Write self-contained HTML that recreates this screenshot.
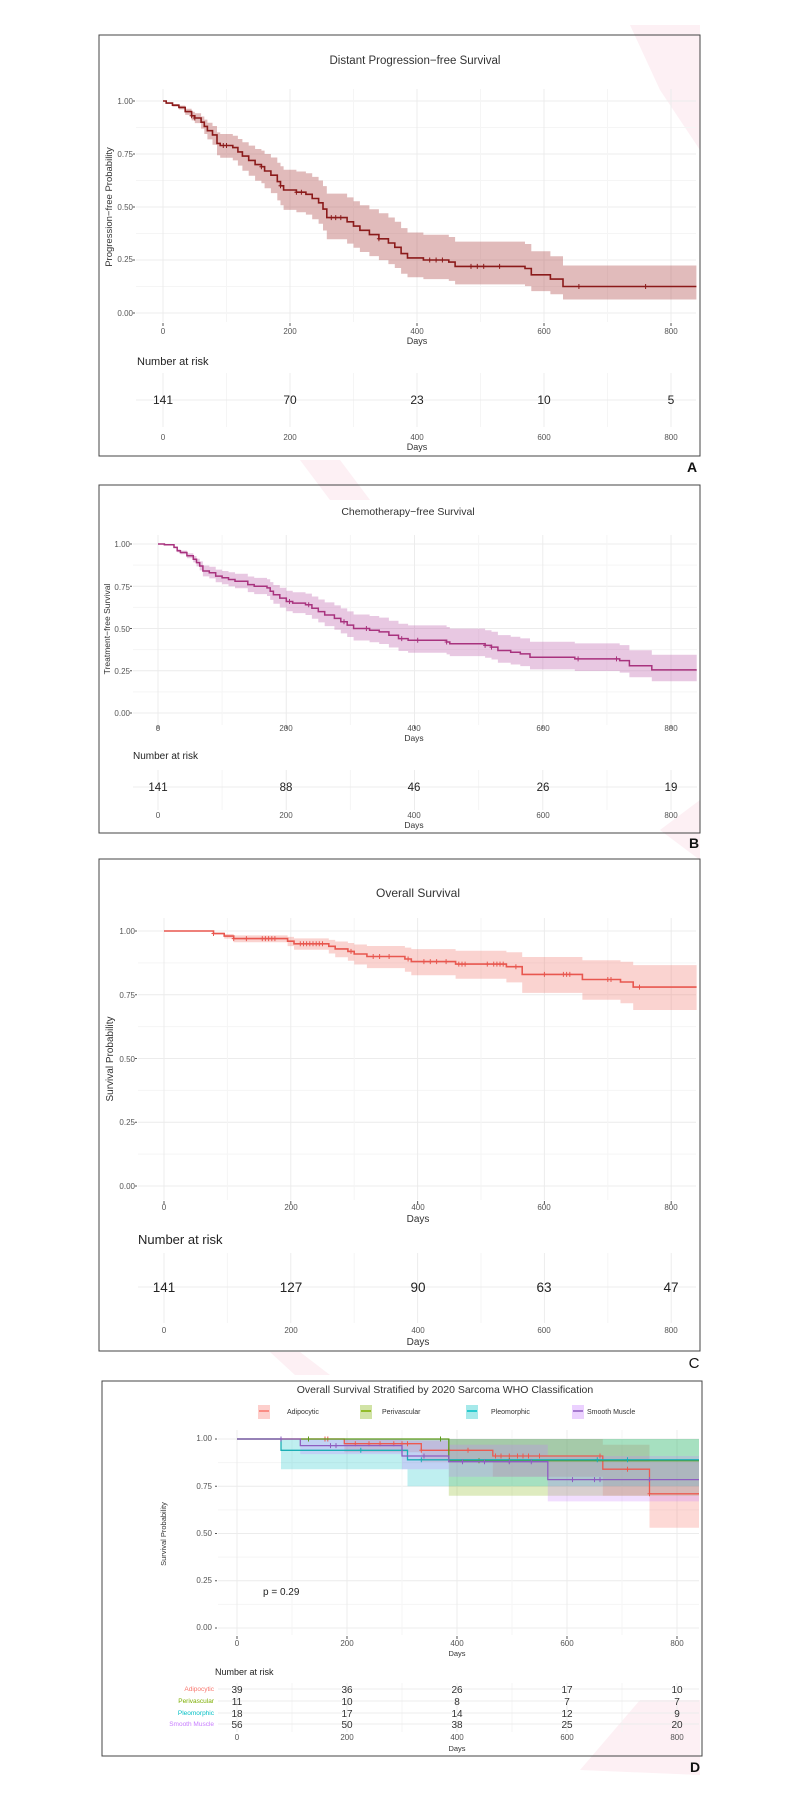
<!DOCTYPE html>
<html><head><meta charset="utf-8"><style>
html,body{margin:0;padding:0;background:#fff;}
svg{display:block;font-family:"Liberation Sans",sans-serif;}
.tk{font-size:8px;fill:#555;}
.ax{font-size:9px;fill:#333;}
.grid{stroke:#ececec;stroke-width:1;}
.mgrid{stroke:#f5f5f5;stroke-width:1;}
</style></head><body>
<svg id="s" width="800" height="1800" viewBox="0 0 800 1800" xmlns="http://www.w3.org/2000/svg">
<g fill="#fdf0f4">
<polygon points="630,25 700,25 700,150 660,90"/>
<polygon points="300,460 340,460 370,500 330,500"/>
<polygon points="660,830 700,800 700,860"/>
<polygon points="270,1352 300,1352 330,1375 295,1375"/>
<polygon points="580,1770 640,1700 700,1700 700,1775"/>
</g>
<g id="grids"></g>
<g id="bands"></g>
<g id="lines"></g>

<!-- Panel A -->
<rect x="99" y="35" width="601" height="421" fill="none" stroke="#444" stroke-width="1"/>
<text x="415" y="64" text-anchor="middle" font-size="11.5" fill="#333">Distant Progression−free Survival</text>
<g class="tk" text-anchor="end">
<text x="133" y="104">1.00</text><text x="133" y="157">0.75</text><text x="133" y="210">0.50</text><text x="133" y="262">0.25</text><text x="133" y="316">0.00</text>
</g>
<text transform="translate(112,207) rotate(-90)" text-anchor="middle" font-size="9.5" fill="#333">Progression−free Probability</text>
<g class="tk" text-anchor="middle">
<text x="163" y="334">0</text><text x="290" y="334">200</text><text x="417" y="334">400</text><text x="544" y="334">600</text><text x="671" y="334">800</text>
</g>
<text x="417" y="344" text-anchor="middle" class="ax">Days</text>
<text x="137" y="365" font-size="11" fill="#222">Number at risk</text>
<g font-size="12" fill="#222" text-anchor="middle">
<text x="163" y="404">141</text><text x="290" y="404">70</text><text x="417" y="404">23</text><text x="544" y="404">10</text><text x="671" y="404">5</text>
</g>
<g class="tk" text-anchor="middle">
<text x="163" y="440">0</text><text x="290" y="440">200</text><text x="417" y="440">400</text><text x="544" y="440">600</text><text x="671" y="440">800</text>
</g>
<text x="417" y="450" text-anchor="middle" class="ax">Days</text>
<text x="692" y="472" text-anchor="middle" font-size="14" font-weight="bold" fill="#111">A</text>

<!-- Panel B -->
<rect x="99" y="485" width="601" height="348" fill="none" stroke="#444" stroke-width="1"/>
<text x="408" y="515" text-anchor="middle" font-size="10.5" fill="#333">Chemotherapy−free Survival</text>
<g class="tk" text-anchor="end" font-size="7">
<text x="130" y="547">1.00</text><text x="130" y="590">0.75</text><text x="130" y="632">0.50</text><text x="130" y="674">0.25</text><text x="130" y="716">0.00</text>
</g>
<text transform="translate(110,629) rotate(-90)" text-anchor="middle" font-size="8.5" fill="#333">Treatment−free Survival</text>
<g class="tk" text-anchor="middle" font-size="7">
<text x="158" y="731">0</text><text x="286" y="731">200</text><text x="414" y="731">400</text><text x="543" y="731">600</text><text x="671" y="731">800</text>
</g>
<text x="414" y="741" text-anchor="middle" font-size="8.5" fill="#333">Days</text>
<text x="133" y="759" font-size="10" fill="#222">Number at risk</text>
<g font-size="11.5" fill="#222" text-anchor="middle">
<text x="158" y="791">141</text><text x="286" y="791">88</text><text x="414" y="791">46</text><text x="543" y="791">26</text><text x="671" y="791">19</text>
</g>
<g class="tk" text-anchor="middle" font-size="7">
<text x="158" y="818">0</text><text x="286" y="818">200</text><text x="414" y="818">400</text><text x="543" y="818">600</text><text x="671" y="818">800</text>
</g>
<text x="414" y="828" text-anchor="middle" font-size="8.5" fill="#333">Days</text>
<text x="694" y="848" text-anchor="middle" font-size="14" font-weight="bold" fill="#111">B</text>

<!-- Panel C -->
<rect x="99" y="859" width="601" height="492" fill="none" stroke="#444" stroke-width="1"/>
<text x="418" y="897" text-anchor="middle" font-size="12" fill="#333">Overall Survival</text>
<g class="tk" text-anchor="end" font-size="8.5">
<text x="135" y="934">1.00</text><text x="135" y="998">0.75</text><text x="135" y="1062">0.50</text><text x="135" y="1125">0.25</text><text x="135" y="1189">0.00</text>
</g>
<text transform="translate(113,1059) rotate(-90)" text-anchor="middle" font-size="10" fill="#333">Survival Probability</text>
<g class="tk" text-anchor="middle" font-size="8.5">
<text x="164" y="1210">0</text><text x="291" y="1210">200</text><text x="418" y="1210">400</text><text x="544" y="1210">600</text><text x="671" y="1210">800</text>
</g>
<text x="418" y="1222" text-anchor="middle" font-size="10" fill="#333">Days</text>
<text x="138" y="1244" font-size="13" fill="#222">Number at risk</text>
<g font-size="13.5" fill="#222" text-anchor="middle">
<text x="164" y="1292">141</text><text x="291" y="1292">127</text><text x="418" y="1292">90</text><text x="544" y="1292">63</text><text x="671" y="1292">47</text>
</g>
<g class="tk" text-anchor="middle" font-size="8">
<text x="164" y="1333">0</text><text x="291" y="1333">200</text><text x="418" y="1333">400</text><text x="544" y="1333">600</text><text x="671" y="1333">800</text>
</g>
<text x="418" y="1345" text-anchor="middle" font-size="10" fill="#333">Days</text>
<text x="694" y="1368" text-anchor="middle" font-size="15" fill="#111">C</text>

<!-- Panel D -->
<rect x="102" y="1381" width="600" height="375" fill="none" stroke="#444" stroke-width="1"/>
<text x="445" y="1393" text-anchor="middle" font-size="10.5" fill="#333">Overall Survival Stratified by 2020 Sarcoma WHO Classification</text>
<g font-size="7" fill="#333">
<rect x="258" y="1405" width="12" height="14" fill="#f8766d" opacity="0.35"/><line x1="259" y1="1411" x2="269" y2="1411" stroke="#f8766d" stroke-width="1.5"/><text x="287" y="1414">Adipocytic</text>
<rect x="360" y="1405" width="12" height="14" fill="#7cae00" opacity="0.35"/><line x1="361" y1="1411" x2="371" y2="1411" stroke="#7cae00" stroke-width="1.5"/><text x="382" y="1414">Perivascular</text>
<rect x="466" y="1405" width="12" height="14" fill="#00bfc4" opacity="0.35"/><line x1="467" y1="1411" x2="477" y2="1411" stroke="#00bfc4" stroke-width="1.5"/><text x="491" y="1414">Pleomorphic</text>
<rect x="572" y="1405" width="12" height="14" fill="#c77cff" opacity="0.35"/><line x1="573" y1="1411" x2="583" y2="1411" stroke="#8e5cc0" stroke-width="1.5"/><text x="587" y="1414">Smooth Muscle</text>
</g>
<g class="tk" text-anchor="end" font-size="6.5">
<text x="212" y="1441">1.00</text><text x="212" y="1489">0.75</text><text x="212" y="1536">0.50</text><text x="212" y="1583">0.25</text><text x="212" y="1630">0.00</text>
</g>
<text transform="translate(166,1534) rotate(-90)" text-anchor="middle" font-size="7.5" fill="#333">Survival Probability</text>
<text x="263" y="1595" font-size="10" fill="#222">p = 0.29</text>
<g class="tk" text-anchor="middle" font-size="6.5">
<text x="237" y="1646">0</text><text x="347" y="1646">200</text><text x="457" y="1646">400</text><text x="567" y="1646">600</text><text x="677" y="1646">800</text>
</g>
<text x="457" y="1656" text-anchor="middle" font-size="7.5" fill="#333">Days</text>
<text x="215" y="1675" font-size="9" fill="#222">Number at risk</text>
<g font-size="6.5" text-anchor="end">
<text x="214" y="1691" fill="#f8766d">Adipocytic</text>
<text x="214" y="1703" fill="#7cae00">Perivascular</text>
<text x="214" y="1715" fill="#00bfc4">Pleomorphic</text>
<text x="214" y="1726" fill="#c77cff">Smooth Muscle</text>
</g>
<g font-size="10" fill="#333" text-anchor="middle">
<text x="237" y="1693">39</text><text x="347" y="1693">36</text><text x="457" y="1693">26</text><text x="567" y="1693">17</text><text x="677" y="1693">10</text>
<text x="237" y="1705">11</text><text x="347" y="1705">10</text><text x="457" y="1705">8</text><text x="567" y="1705">7</text><text x="677" y="1705">7</text>
<text x="237" y="1717">18</text><text x="347" y="1717">17</text><text x="457" y="1717">14</text><text x="567" y="1717">12</text><text x="677" y="1717">9</text>
<text x="237" y="1728">56</text><text x="347" y="1728">50</text><text x="457" y="1728">38</text><text x="567" y="1728">25</text><text x="677" y="1728">20</text>
</g>
<g class="tk" text-anchor="middle" font-size="6">
<text x="237" y="1740">0</text><text x="347" y="1740">200</text><text x="457" y="1740">400</text><text x="567" y="1740">600</text><text x="677" y="1740">800</text>
</g>
<text x="457" y="1751" text-anchor="middle" font-size="7.5" fill="#333">Days</text>
<text x="695" y="1772" text-anchor="middle" font-size="14" font-weight="bold" fill="#111">D</text>
</svg>
<script>
(function(){
var NS="http://www.w3.org/2000/svg";
function el(p,t,a){var e=document.createElementNS(NS,t);for(var k in a)e.setAttribute(k,a[k]);document.getElementById(p).appendChild(e);return e;}
var P=[
 {x0:163,xs:0.635,y0:313,ys:212,L:136,R:696,T:89,B:322,rt:373,rb:427,rh:[400]},
 {x0:158,xs:0.6413,y0:713,ys:169,L:133,R:697,T:535,B:725,rt:770,rb:810,rh:[787]},
 {x0:164,xs:0.634,y0:1186,ys:255,L:138,R:696,T:918,B:1200,rt:1253,rb:1323,rh:[1287]},
 {x0:237,xs:0.55,y0:1628,ys:189,L:218,R:699,T:1430,B:1635,rt:1683,rb:1732,rh:[1689,1701,1713,1724]}
];
P.forEach(function(p){
 for(var i=0;i<9;i++){var v=i*0.125,y=p.y0-v*p.ys;el("grids","line",{x1:p.L,x2:p.R,y1:y,y2:y,"class":i%2?"mgrid":"grid"});}
 for(var d=0;d<=900;d+=100){var x=p.x0+d*p.xs;if(x>p.R)break;el("grids","line",{x1:x,x2:x,y1:p.T,y2:p.B,"class":d%200?"mgrid":"grid"});
   el("grids","line",{x1:x,x2:x,y1:p.rt,y2:p.rb,"class":d%200?"mgrid":"grid"});
   if(d%200==0){el("grids","line",{x1:x,x2:x,y1:p.B+1,y2:p.B+4,stroke:"#555","stroke-width":1});}}
 p.rh.forEach(function(y){el("grids","line",{x1:p.L,x2:p.R,y1:y,y2:y,"class":"grid"});});
 for(var j=0;j<5;j++){var yy=p.y0-j*0.25*p.ys;el("grids","line",{x1:p.L-3,x2:p.L-1,y1:yy,y2:yy,stroke:"#555","stroke-width":1});}
});
function draw(p,steps,end,col,band,kl,ku,lw,cens,fixedBand){
 var pts=[],lo=[],hi=[];
 for(var i=0;i<steps.length;i++){var d=steps[i][0],S=steps[i][1],dn=i+1<steps.length?steps[i+1][0]:end;
   var a,b;
   if(fixedBand){a=steps[i][2];b=steps[i][3];}
   else{a=S>=0.999?1:Math.pow(S,Math.exp(kl));b=S>=0.999?1:Math.pow(S,Math.exp(-ku));}
   pts.push([d,S],[dn,S]);lo.push([d,a],[dn,a]);hi.push([d,b],[dn,b]);}
 function X(d){return (p.x0+d*p.xs).toFixed(1);} function Y(s){return (p.y0-s*p.ys).toFixed(1);}
 var ds="M"+hi.map(function(q){return X(q[0])+","+Y(q[1]);}).join("L");
 for(var k=lo.length-1;k>=0;k--)ds+="L"+X(lo[k][0])+","+Y(lo[k][1]);
 el("bands","path",{d:ds+"Z",fill:band});
 el("lines","path",{d:"M"+pts.map(function(q){return X(q[0])+","+Y(q[1]);}).join("L"),fill:"none",stroke:col,"stroke-width":lw});
 (cens||[]).forEach(function(c){var S=1;for(var i=0;i<steps.length;i++)if(steps[i][0]<=c)S=steps[i][1];
   var x=+X(c),y=+Y(S);el("lines","path",{d:"M"+(x-2)+","+y+"h4M"+x+","+(y-2.5)+"v5",stroke:col,"stroke-width":1});});
}
var A=[[0,1],[5,.99],[15,.98],[25,.97],[35,.95],[45,.93],[50,.92],[60,.9],[65,.88],[70,.86],[78,.84],[85,.8],[90,.79],[110,.78],[118,.76],[125,.74],[135,.72],[145,.7],[155,.69],[160,.67],[170,.65],[180,.62],[185,.6],[190,.58],[210,.57],[225,.56],[235,.54],[245,.52],[252,.49],[258,.45],[290,.43],[300,.41],[310,.39],[325,.37],[340,.35],[355,.33],[365,.31],[375,.28],[385,.26],[410,.25],[450,.24],[460,.22],[570,.21],[580,.18],[610,.16],[630,.125]];
draw(P[0],A,840,"#8b1a1a","rgba(175,75,75,0.38)",0.28,0.33,1.6,[45,50,95,100,155,185,210,218,265,272,280,340,420,430,440,485,495,505,530,655,760]);
var B=[[0,1],[10,.995],[25,.98],[30,.96],[35,.95],[45,.93],[55,.91],[60,.89],[65,.87],[70,.84],[80,.83],[90,.81],[100,.8],[110,.79],[120,.78],[140,.76],[150,.75],[170,.74],[175,.72],[180,.7],[190,.68],[200,.66],[210,.65],[230,.64],[240,.62],[250,.6],[260,.58],[275,.56],[285,.54],[295,.52],[305,.5],[330,.49],[345,.48],[360,.46],[375,.44],[390,.43],[450,.42],[455,.41],[510,.4],[520,.39],[530,.37],[550,.36],[565,.35],[580,.33],[650,.32],[720,.31],[735,.28],[770,.255]];
draw(P[1],B,840,"#a8327e","rgba(195,110,180,0.38)",0.2,0.25,1.5,[205,235,290,325,380,405,450,510,520,655,715]);
var C=[[0,1],[78,.99],[95,.98],[110,.97],[195,.96],[205,.95],[260,.94],[270,.93],[290,.92],[300,.91],[320,.9],[380,.89],[390,.88],[460,.87],[540,.86],[565,.83],[660,.81],[720,.8],[740,.78]];
draw(P[2],C,840,"#e8574f","rgba(242,130,120,0.35)",0.4,0.55,1.6,[78,110,130,155,160,165,170,175,215,220,225,230,235,240,245,250,295,330,340,355,385,410,420,430,445,465,470,475,510,520,525,530,535,555,600,630,635,640,700,705,750]);
var Dp=[
 {c:"#ec5a50",b:"rgba(248,118,109,0.28)",s:[[0,1,1,1],[195,.975,.93,1],[335,.94,.88,1],[465,.91,.8,1],[665,.84,.7,.97],[750,.71,.53,.88]],cn:[160,165,215,240,260,285,300,310,335,385,420,470,480,495,510,520,530,550,660,710,750]},
 {c:"#5d9b1a",b:"rgba(124,174,0,0.25)",s:[[0,1,1,1],[385,.885,.7,1]],cn:[130,370,440,495]},
 {c:"#1aaeb4",b:"rgba(0,191,196,0.25)",s:[[0,1,1,1],[80,.94,.84,1],[310,.89,.75,1]],cn:[225,335,655,710]},
 {c:"#8e5cc0",b:"rgba(199,124,255,0.25)",s:[[0,1,1,1],[115,.965,.92,1],[300,.91,.84,.99],[385,.88,.8,.97],[565,.785,.67,.91]],cn:[80,170,180,340,410,450,495,535,610,650,660,750]}
];
Dp.forEach(function(g){draw(P[3],g.s,840,g.c,g.b,0,0,1.3,g.cn,true);});
})();
</script>
</body></html>
